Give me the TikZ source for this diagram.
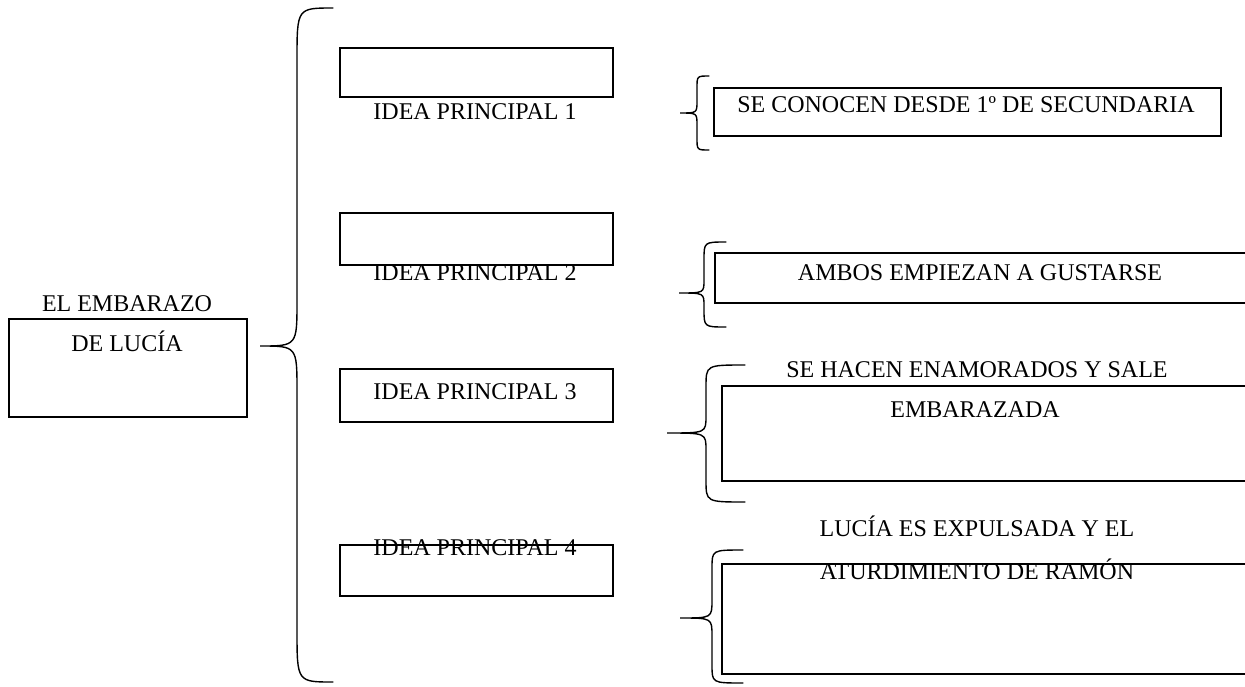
\documentclass[tikz,border=0pt]{standalone}
\usepackage{fontspec}
\setmainfont{Liberation Serif}
\usetikzlibrary{positioning}
% llave: fin, vertical, punta, arriba, medio, abajo, curva, curva punta
\newcommand{\llave}[8]{%
  \draw[llave] (#1,#4) .. controls (#2,#4) .. (#2,{#4+#7}) -- (#2,{#5-#8})
    .. controls (#2,#5) .. (#3,#5) .. controls (#2,#5) .. (#2,{#5+#8})
    -- (#2,{#6-#7}) .. controls (#2,#6) .. (#1,#6);}
\tikzset{
  caja/.style={draw,line width=1.6pt,anchor=north west,inner sep=0pt},
  idea/.style={caja,minimum width=273pt,minimum height=50pt},
  texto/.style={anchor=base,inner sep=0pt,font=\fontsize{24}{29}\selectfont},
  llave/.style={line width=1.4pt,line cap=round}
}
\begin{document}
\begin{tikzpicture}[x=1pt,y=-1pt]
    \useasboundingbox (0,0) rectangle (1245,686);
    \clip (0,0) rectangle (1245,686);
    % tema
    \node[caja,minimum width=238pt,minimum height=98pt] (tema) at (8,318) {};
    \node[texto] (tema1) at (127,311) {EL EMBARAZO};
    \node[texto] (tema2) at (127,351) {DE LUCÍA};
    \llave{333}{297}{260}{8}{346}{682}{52}{45}
    % ideas principales
    \node[idea,minimum height=49pt] (idea1) at (339,47) {};
    \node[texto] (lab1) at (475,119) {IDEA PRINCIPAL 1};
    \node[idea,minimum height=52pt] (idea2) at (339,212) {};
    \node[texto] (lab2) at (475,280) {IDEA PRINCIPAL 2};
    \node[idea,minimum height=53pt] (idea3) at (339,368) {};
    \node[texto] (lab3) at (475,399) {IDEA PRINCIPAL 3};
    \node[idea,minimum height=51pt] (idea4) at (339,544) {};
    \node[texto] (lab4) at (475,555) {IDEA PRINCIPAL 4};
    % detalles
    \llave{709}{697}{680}{76}{113}{150}{12}{12}
    \node[caja,minimum width=507pt,minimum height=48pt] (det1) at (713,87) {};
    \node[texto] (txt1) at (966,112) {SE CONOCEN DESDE 1º DE SECUNDARIA};
    \llave{726}{704}{679}{242}{293}{327}{18}{13}
    \node[caja,minimum width=560pt,minimum height=50pt] (det2) at (714,252) {};
    \node[texto] (txt2) at (980,280) {AMBOS EMPIEZAN A GUSTARSE};
    \llave{745}{706}{667}{365}{433}{502}{22}{17}
    \node[caja,minimum width=560pt,minimum height=95pt] (det3) at (721,385) {};
    \node[texto] (txt3a) at (977,377) {SE HACEN ENAMORADOS Y SALE};
    \node[texto] (txt3b) at (975,417) {EMBARAZADA};
    \llave{743}{712}{680}{550}{618}{683}{18}{18}
    \node[caja,minimum width=560pt,minimum height=110pt] (det4) at (721,563) {};
    \node[texto] (txt4a) at (977,536) {LUCÍA ES EXPULSADA Y EL};
    \node[texto] (txt4b) at (977,579) {ATURDIMIENTO DE RAMÓN};
\end{tikzpicture}
\end{document}
